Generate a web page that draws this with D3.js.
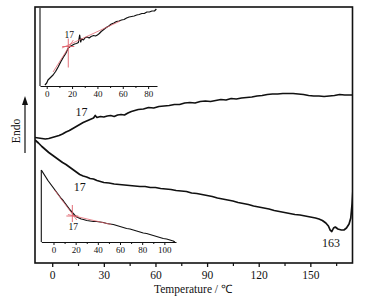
<!DOCTYPE html>
<html>
<head>
<meta charset="utf-8">
<script src="https://cdn.jsdelivr.net/npm/d3@7/dist/d3.min.js"></script>
<style>
    body { margin: 0; background: #ffffff; }
    text { font-family: "Liberation Serif", "Times New Roman", serif; fill: #111; }
</style>
</head>
<body>
<div id="chart"></div>
<script>
// ---- data (temperature in °C, heat flow in arbitrary units) ----
const mainTicks = [0, 30, 60, 90, 120, 150];
const mainMinorTicks = [15, 45, 75, 105, 135, 165];
const topInsetTicks = [0, 20, 40, 60, 80];
const topInsetMinor = [10, 30, 50, 70];
const bottomInsetTicks = [0, 20, 40, 60, 80, 100];
const bottomInsetMinor = [10, 30, 50, 70, 90];

// upper trace of the main plot
const heatingCurve = [
    [-10, 125.5], [-8, 125], [-6, 124.5], [-4, 124], [-2, 124.5], [0, 125.5], [2, 126.5], [4, 127.5],
    [6, 129], [8, 131], [10, 132.5], [12, 134.5], [14, 136.5], [16, 138.5], [18, 140.5], [20, 142],
    [22, 143.5], [24, 145], [25, 147.5], [26, 145.5], [28, 146.5], [30, 146], [32, 147], [34, 147.5],
    [36, 146.5], [38, 148], [40, 148.5], [42, 148], [44, 150], [46, 151.5], [48, 152.5], [50, 153.5],
    [53, 154], [56, 155.5], [59, 155], [62, 156.5], [65, 157], [68, 157.5], [71, 158.5], [74, 158.5],
    [77, 160], [80, 160.5], [83, 160], [86, 161.5], [89, 162], [92, 161.5], [95, 162.5], [98, 163.5],
    [101, 163], [104, 164.5], [107, 164], [110, 165], [113, 165.5], [116, 166], [119, 167], [122, 167.5],
    [125, 168.5], [128, 169], [131, 169], [134, 169.5], [137, 169.5], [140, 169.5], [143, 169], [146, 168.5],
    [149, 167.5], [152, 167], [155, 167], [158, 166.5], [161, 167], [164, 167.5], [167, 168.5], [170, 168],
    [173, 168], [175, 168]
];

// lower trace of the main plot
const coolingCurve = [
    [-10, 123], [-8, 120], [-6, 116.5], [-4, 113.5], [-2, 110.5], [0, 108], [2, 105.5], [4, 103],
    [6, 100.5], [8, 98.5], [10, 96], [12, 93.5], [14, 91], [16, 88.5], [18, 87], [20, 86],
    [22, 84.5], [24, 84], [26, 82.5], [28, 81.5], [30, 80.5], [33, 80], [36, 79], [39, 78.5],
    [42, 78], [45, 77.5], [48, 77], [51, 76.5], [54, 76.5], [57, 75.5], [60, 75.5], [63, 74.5],
    [66, 74], [69, 73.5], [72, 72.5], [75, 72], [78, 71.5], [81, 70], [84, 69.5], [87, 68.5],
    [90, 67.5], [93, 66.5], [96, 65], [99, 64], [102, 63], [105, 62], [108, 60.5], [111, 59.5],
    [114, 58.5], [117, 57], [120, 56], [123, 55], [126, 54], [129, 52.5], [132, 51.5], [135, 50.5],
    [138, 49.5], [141, 48.5], [144, 48], [147, 47], [150, 46], [153, 45], [155, 44], [157, 42.5],
    [159, 40], [160.5, 37], [161.5, 33], [162.5, 31.5], [163.5, 35], [164.5, 36], [166, 34], [168, 33],
    [169.5, 33], [171, 35], [172.5, 39], [173.5, 45], [174.3, 60], [175, 80]
];

// upper inset trace
const topInsetCurve = [
    [-1.4, 1], [0, 3], [1, 6], [3, 8.5], [5, 11], [7, 14.5], [9, 19], [11, 24], [13, 28.5], [15, 32.5],
    [17, 38], [19, 40], [20.5, 41], [22, 42], [23.5, 42.5], [25, 43.5], [26, 51], [26.8, 44], [27.5, 47],
    [29, 46], [30.5, 48.5], [32, 49], [33.5, 48], [35, 49.5], [37, 50.5], [38.5, 50], [40, 51], [41.5, 52.5],
    [43, 54.5], [45, 56.5], [47, 58.5], [49, 60], [51, 62], [53, 63], [55, 64.5], [57, 65], [59, 66],
    [61, 66.5], [63, 68], [65, 69], [67, 69.5], [69, 70], [71, 71], [73, 71.5], [75, 72.5], [77, 72.5],
    [79, 74], [81, 74], [83, 75], [85, 75], [86.5, 77]
];

// lower inset trace
const bottomInsetCurve = [
    [-11, 72], [-9, 68.5], [-7, 65], [-5, 61.5], [-3, 58.5], [-1, 55.5], [1, 52.5], [3, 49.5], [5, 46.5],
    [7, 43.5], [9, 41], [11, 38], [13, 35], [15, 32], [17, 29.5], [19, 27], [21, 25], [23, 24], [25, 23],
    [27, 22.5], [30, 21.5], [33, 21], [36, 20.5], [39, 20.5], [42, 20], [45, 19.5], [48, 18.5], [51, 18],
    [54, 17.5], [57, 16.5], [60, 15.5], [63, 14.5], [66, 13.5], [69, 13], [72, 12], [75, 11], [78, 10],
    [81, 9], [84, 8.5], [87, 7.5], [90, 6.5], [93, 5.5], [96, 4.5], [99, 3.5], [102, 3], [105, 2],
    [108, 1], [109.5, 0]
];

// onset annotations
const mainLabels = [
    { t: 17, v: 151, text: "17" },
    { t: 16, v: 76, text: "17" },
    { t: 162, v: 20, text: "163" }
];
const topInsetOnset = { t: 17, v: 39.5, text: "17", tangents: [[[5, 14], [21, 46]], [[12, 38], [58, 65]]] };
const bottomInsetOnset = { t: 17, v: 26, text: "17", tangents: [[[1, 52], [21, 22]], [[13, 27.5], [52, 17.5]]] };

// ---- drawing ----
const W = 365, H = 299;
const svg = d3.select("#chart").append("svg")
    .attr("width", W)
    .attr("height", H)
    .style("display", "block");

const frame = { left: 35, top: 7, right: 352.5, bottom: 263 };
const x = d3.scaleLinear().domain([-10, 174.5]).range([frame.left, frame.right]);
const y = d3.scaleLinear().domain([0, 256]).range([frame.bottom, frame.top]);

svg.append("clipPath").attr("id", "plotClip")
    .append("rect")
    .attr("x", frame.left).attr("y", frame.top)
    .attr("width", frame.right - frame.left).attr("height", frame.bottom - frame.top);

const line = d3.line().x(d => x(d[0])).y(d => y(d[1]));

const plot = svg.append("g").attr("clip-path", "url(#plotClip)");
[heatingCurve, coolingCurve].forEach(c => {
    plot.append("path")
        .datum(c)
        .attr("d", line)
        .attr("fill", "none")
        .attr("stroke", "#111")
        .attr("stroke-width", 1.7)
        .attr("stroke-linejoin", "round");
});

// frame
svg.append("rect")
    .attr("x", frame.left).attr("y", frame.top)
    .attr("width", frame.right - frame.left).attr("height", frame.bottom - frame.top)
    .attr("fill", "none")
    .attr("stroke", "#111")
    .attr("stroke-width", 1.6);

// main x axis
const xAxis = svg.append("g")
    .attr("transform", `translate(0,${frame.bottom})`)
    .call(d3.axisBottom(x).tickValues(mainTicks).tickSize(4).tickSizeOuter(0).tickPadding(4));
xAxis.select(".domain").remove();
xAxis.selectAll("line").attr("stroke", "#111").attr("stroke-width", 1.3);
xAxis.selectAll("text").style("font-size", "11.5px").style("font-family", "Liberation Serif, serif").attr("fill", "#111");

const xMinor = svg.append("g")
    .attr("transform", `translate(0,${frame.bottom})`)
    .call(d3.axisBottom(x).tickValues(mainMinorTicks).tickSize(3).tickSizeOuter(0).tickFormat(""));
xMinor.select(".domain").remove();
xMinor.selectAll("line").attr("stroke", "#111").attr("stroke-width", 1.2);

svg.append("text")
    .attr("x", 193)
    .attr("y", 293)
    .attr("text-anchor", "middle")
    .style("font-size", "11.5px")
    .text("Temperature / ℃");

// y label with arrow
svg.append("text")
    .attr("transform", "translate(15.5,131) rotate(-90)")
    .attr("text-anchor", "middle")
    .attr("dy", "0.35em")
    .style("font-size", "11.5px")
    .text("Endo");

svg.append("line")
    .attr("x1", 25).attr("x2", 25)
    .attr("y1", 153).attr("y2", 104)
    .attr("stroke", "#111").attr("stroke-width", 1.2);
svg.append("path")
    .attr("d", "M25,96 L22,105 L28,105 Z")
    .attr("fill", "#111");

svg.selectAll(".mainLabel")
    .data(mainLabels)
    .enter()
    .append("text")
    .attr("class", "mainLabel")
    .attr("x", d => x(d.t))
    .attr("y", d => y(d.v))
    .attr("dy", "0.35em")
    .attr("text-anchor", "middle")
    .style("font-size", "12px")
    .text(d => d.text);

// ---- insets ----
function drawInset(opts) {
    const { xDomain, xRange, yDomain, yRange, curve, ticks, minor, onset, labelBelow } = opts;
    const ix = d3.scaleLinear().domain(xDomain).range(xRange);
    const iy = d3.scaleLinear().domain(yDomain).range(yRange);
    const g = svg.append("g");

    // left axis line
    g.append("line")
        .attr("x1", xRange[0]).attr("x2", xRange[0])
        .attr("y1", yRange[1]).attr("y2", yRange[0])
        .attr("stroke", "#111").attr("stroke-width", 1.1);

    const ax = g.append("g")
        .attr("transform", `translate(0,${yRange[0]})`)
        .call(d3.axisBottom(ix).tickValues(ticks).tickSize(3).tickSizeOuter(0).tickPadding(1.5));
    ax.select(".domain").attr("stroke", "#111").attr("stroke-width", 1.1);
    ax.selectAll("line").attr("stroke", "#111");
    ax.selectAll("text").style("font-size", "9px").style("font-family", "Liberation Serif, serif").attr("fill", "#111");

    const axm = g.append("g")
        .attr("transform", `translate(0,${yRange[0]})`)
        .call(d3.axisBottom(ix).tickValues(minor).tickSize(2).tickSizeOuter(0).tickFormat(""));
    axm.select(".domain").remove();
    axm.selectAll("line").attr("stroke", "#111");

    const iline = d3.line().x(d => ix(d[0])).y(d => iy(d[1]));

    g.append("path")
        .datum(curve)
        .attr("d", iline)
        .attr("fill", "none")
        .attr("stroke", "#111")
        .attr("stroke-width", 1.2)
        .attr("stroke-linejoin", "round");

    // tangents
    g.selectAll(".tangent")
        .data(onset.tangents)
        .enter()
        .append("path")
        .attr("class", "tangent")
        .attr("d", iline)
        .attr("fill", "none")
        .attr("stroke", "#e0606a")
        .attr("stroke-opacity", 0.85)
        .attr("stroke-width", 0.9);

    // crosshair
    const cx = ix(onset.t), cy = iy(onset.v);
    const vUp = labelBelow ? 11 : 8, vDown = labelBelow ? 6 : 21;
    g.append("line")
        .attr("x1", cx).attr("x2", cx)
        .attr("y1", cy - vUp).attr("y2", cy + vDown)
        .attr("stroke", "#e0606a").attr("stroke-width", 0.9);
    g.append("line")
        .attr("x1", cx - 6).attr("x2", cx + 6)
        .attr("y1", cy).attr("y2", cy)
        .attr("stroke", "#e0606a").attr("stroke-width", 0.9);

    g.append("text")
        .attr("x", cx + 1)
        .attr("y", labelBelow ? cy + 11 : cy - 12)
        .attr("dy", "0.35em")
        .attr("text-anchor", "middle")
        .style("font-size", "9.5px")
        .text(onset.text);
}

drawInset({
    xDomain: [-5.3, 87], xRange: [40, 157],
    yDomain: [0, 78], yRange: [86, 8],
    curve: topInsetCurve, ticks: topInsetTicks, minor: topInsetMinor,
    onset: topInsetOnset, labelBelow: false
});

drawInset({
    xDomain: [-11, 110.5], xRange: [41.3, 176],
    yDomain: [0, 72], yRange: [242, 170],
    curve: bottomInsetCurve, ticks: bottomInsetTicks, minor: bottomInsetMinor,
    onset: bottomInsetOnset, labelBelow: true
});
</script>
</body>
</html>
